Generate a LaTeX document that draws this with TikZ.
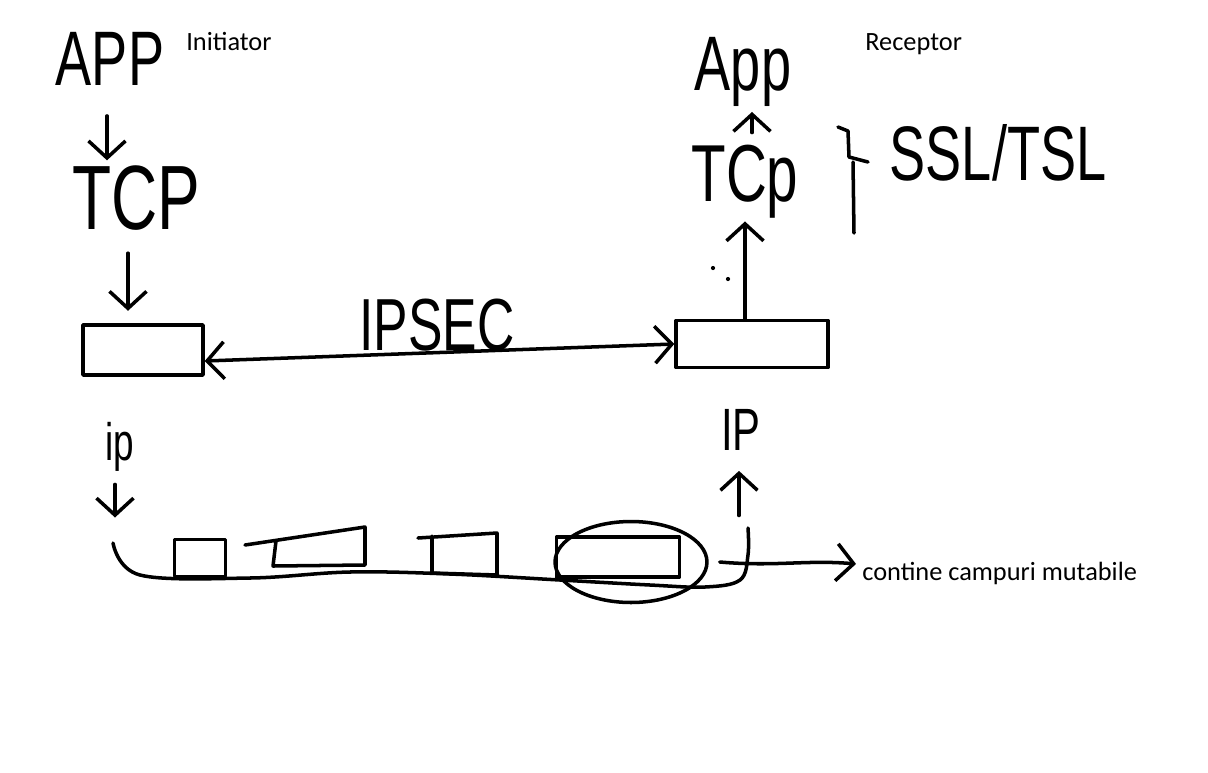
\documentclass[tikz,border=0pt]{standalone}
\usepackage{fontspec}
\setmainfont{Carlito}
\newfontfamily\scrawl[FakeStretch=0.7]{Liberation Sans}
\usetikzlibrary{arrows.meta, shapes.geometric, positioning}

\begin{document}
\begin{tikzpicture}[
        x=0.02cm,
        y=-0.02cm,
        >={Straight Barb[length=3.4mm, width=7.4mm]},
        font=\fontsize{15}{18}\selectfont,
        hand/.style={font=\scrawl\fontsize{#1}{#1}\selectfont, inner sep=0pt},
        pen/.style={draw, line width=2pt, line cap=round, line join=round},
        arrow/.style={pen, ->},
        dblarrow/.style={pen, <->},
        frame/.style={rectangle, pen, inner sep=0pt},
        typed/.style={inner sep=0pt, anchor=base west}
    ]
    \useasboundingbox (0,0) rectangle (1208,772);

    % Initiator side
    \node[hand=44pt] (appL) at (110,59) {APP};
    \node[typed]     (ini)  at (186,50) {Initiator};
    \node[hand=52pt] (tcpL) at (136,198) {TCP};
    \node[frame, minimum width=2.4cm, minimum height=1cm] (boxL) at (143,350) {};

    % Receptor side
    \node[hand=44pt] (appR) at (743,72) {App};
    \node[typed]     (rec)  at (865,50) {Receptor};
    \node[hand=46pt] (tcpR) at (745,182) {TCp};
    \node[hand=44pt] (ssl)  at (998,153) {SSL/TSL};
    \node[frame, minimum width=3.04cm, minimum height=0.94cm] (boxR) at (752,344) {};

    % IPSEC tunnel
    \node[hand=42pt] (ipsec) at (437,325) {IPSEC};
    \draw[dblarrow] ([yshift=-0.22cm]boxL.east) -- (boxR.west);

    % Up and down the stacks
    \draw[arrow, shorten <=0.6cm, shorten >=0.1cm] ([xshift=-0.06cm]appL.south) -- ([xshift=-0.06cm]appL.south |- tcpL.north);
    \draw[arrow, shorten <=0.45cm, shorten >=0.25cm] ([xshift=-0.16cm]tcpL.south) -- ([xshift=-0.16cm]tcpL.south |- boxL.north);
    \draw[arrow, shorten >=0.05cm] ([xshift=-0.14cm]boxR.north) -- ([xshift=-0.14cm]boxR.north |- tcpR.south);
    \draw[arrow, shorten <=0.25cm, shorten >=0.1cm] ([xshift=0.14cm]tcpR.north) -- ([xshift=0.14cm]tcpR.north |- appR.south);
    \fill (713,268) circle (1.2pt);
    \fill (728,279) circle (1.2pt);

    % Brace for SSL/TSL
    \draw[pen] (838,127) -- (848,131) -- (849,157) -- (868,162);
    \draw[pen] (853,162) -- (854,233);

    % IP packets
    \node[hand=30pt] (ipL) at (120,447) {ip};
    \node[hand=34pt] (ipR) at (741,430) {IP};
    \coordinate (pktL) at (114,540);
    \coordinate (pktR) at (739,528);
    \draw[arrow, shorten <=0.25cm, shorten >=0.45cm] ([xshift=-0.1cm]ipL.south) -- ([xshift=-0.1cm]ipL.south |- pktL);
    \draw[arrow, shorten <=0.25cm, shorten >=0.4cm] (pktR) -- (pktR |- ipR.south);

    \draw[pen] plot[smooth, tension=0.6] coordinates {(113,543) (140,575) (250,578) (350,572) (450,574) (560,580) (650,585) (705,587) (740,580) (748,555) (748,528)};
    \node[frame, minimum width=1.02cm, minimum height=0.74cm] (f1) at (200,558) {};
    \draw[pen] (245,545) -- (365,527) -- (365,565) -- (273,566) -- (276,541);
    \draw[pen] (418,538) -- (497,533) -- (497,575) -- (432,573) -- (432,536);
    \node[frame, minimum width=2.46cm, minimum height=0.8cm] (f4) at (618,557) {};
    \node[ellipse, pen, minimum width=3.04cm, minimum height=1.62cm] (mut) at (631,562) {};

    % Note
    \node[typed] (note) at (862,580) {contine campuri mutabile};
    \draw[arrow, shorten >=0.12cm] ([xshift=0.22cm]mut.east) to[out=-5, in=175] ([yshift=0.17cm]note.west);

\end{tikzpicture}
\end{document}
